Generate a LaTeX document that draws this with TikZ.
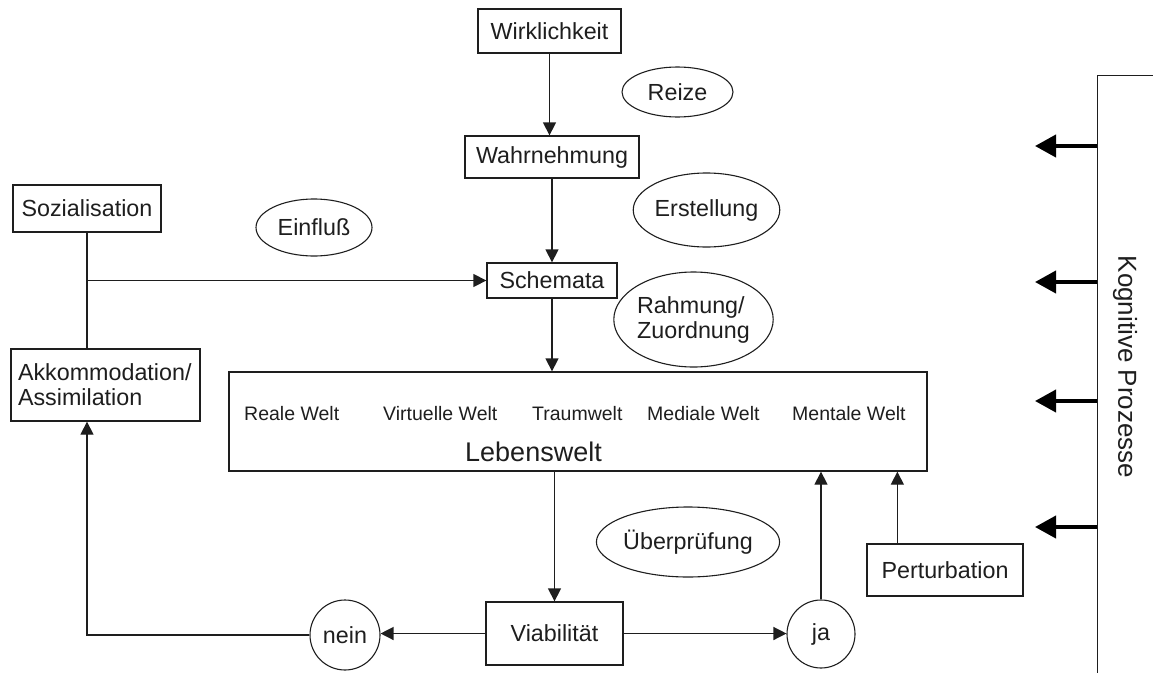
\documentclass[tikz,border=0pt]{standalone}
\usepackage{fontspec}
\setmainfont{Liberation Sans}
\usetikzlibrary{arrows.meta,shapes.geometric,calc}
\definecolor{ink}{HTML}{1E1E1E}
\begin{document}
\begin{tikzpicture}[x=1pt,y=-1pt,
  every node/.style={font=\fontsize{23.3}{25}\selectfont, text=ink},
  box/.style={draw=ink, line width=1.3pt, rectangle, inner sep=0pt},
  oval/.style={draw=ink, line width=1.1pt, ellipse, inner sep=0pt},
  ring/.style={draw=ink, line width=1.1pt, circle, inner sep=0pt},
  flow/.style={draw=ink, line width=1.3pt},
  arr/.style={flow, -{Triangle[length=13pt,width=13pt]}},
  bigarr/.style={draw=black, line width=4pt, -{Triangle[length=21pt,width=22pt]}},
  world/.style={font=\fontsize{19.5}{22}\selectfont, anchor=base west, inner sep=0pt}]
\useasboundingbox (0,0) rectangle (1153,672);
\clip (0,0) rectangle (1153,672);

% main chain
\node[box, minimum width=143pt, minimum height=44pt] (wirk) at (549.5,31) {Wirklichkeit};
\node[box, minimum width=174pt, minimum height=42pt] (wahr) at (552,157) {Wahrnehmung};
\node[box, minimum width=130pt, minimum height=35pt] (schem) at (552,280.5) {Schemata};
\node[box, minimum width=698pt, minimum height=99pt] (leb) at (578,421.5) {};
\node[box, minimum width=137pt, minimum height=63pt] (viab) at (554.5,633.5) {Viabilität};

% worlds inside the Lebenswelt box
\node[world] (w1) at (244,420) {Reale Welt};
\node[world] (w2) at (383,420) {Virtuelle Welt};
\node[world] (w3) at (532,420) {Traumwelt};
\node[world] (w4) at (647,420) {Mediale Welt};
\node[world] (w5) at (792,420) {Mentale Welt};
\node[world, font=\fontsize{27}{30}\selectfont] (lebt) at (465,461) {Lebenswelt};

% left branch
\node[box, minimum width=148pt, minimum height=47pt] (soz) at (87,208.5) {Sozialisation};
\node[box, minimum width=189pt, minimum height=72pt, align=left, text width=175pt] (akk) at (105.5,385) {Akkommodation/\\Assimilation};

% decision circles
\node[ring, minimum size=70pt] (nein) at (345,635) {nein};
\node[ring, minimum size=68pt] (ja) at (821,634) {ja};
\node[box, minimum width=156pt, minimum height=52pt] (pert) at (945,570) {Perturbation};

% annotations
\node[oval, minimum width=111pt, minimum height=50pt] (reize) at (677.5,92) {Reize};
\node[oval, minimum width=131pt, minimum height=74pt] (erst) at (706.5,210) {Erstellung};
\node[oval, minimum width=149pt, minimum height=95pt, align=left] (rahm) at (693.5,319.5) {Rahmung/\\Zuordnung};
\node[oval, minimum width=116pt, minimum height=57pt] (einf) at (314,227.5) {Einfluß};
\node[oval, minimum width=176pt, minimum height=70pt] (uebp) at (688,542) {Überprüfung};

% cognitive processes frame
\node[draw=ink, line width=1.3pt, rectangle, anchor=north west, minimum width=120pt, minimum height=700pt, inner sep=0pt] (kog) at (1097,75) {};
\node[rotate=-90, font=\fontsize{26}{28}\selectfont] (kogt) at (1125,367) {Kognitive Prozesse};

% connectors
\draw[arr] (wirk.south) -- (wirk.south |- wahr.north);
\draw[arr] (wahr.south) -- (wahr.south |- schem.north);
\draw[arr] (schem.south) -- (schem.south |- leb.north);
\draw[arr] (viab.north |- leb.south) -- (viab.north);
\draw[arr] (viab.west) -- (viab.west -| nein.east);
\draw[arr] (viab.east) -- (viab.east -| ja.west);
\draw[arr] (ja.north) -- (ja.north |- leb.south);
\coordinate (ptop) at ($(pert.north west)+(31,0)$);
\draw[arr] (ptop) -- (ptop |- leb.south);
\draw[arr] (nein.west) -| (akk.south -| soz.south);
\draw[flow] (soz.south) -- (soz.south |- akk.north);
\coordinate (junc) at (soz.south |- schem.west);
\draw[arr] (junc) -- (schem.west);

% arrows leaving the cognitive frame
\foreach \yy/\nm in {146/k1,282/k2,401/k3,527/k4}{
  \coordinate (\nm) at (1035,\yy);
  \draw[bigarr] (\nm -| kog.west) -- (\nm);
}
\end{tikzpicture}
\end{document}
